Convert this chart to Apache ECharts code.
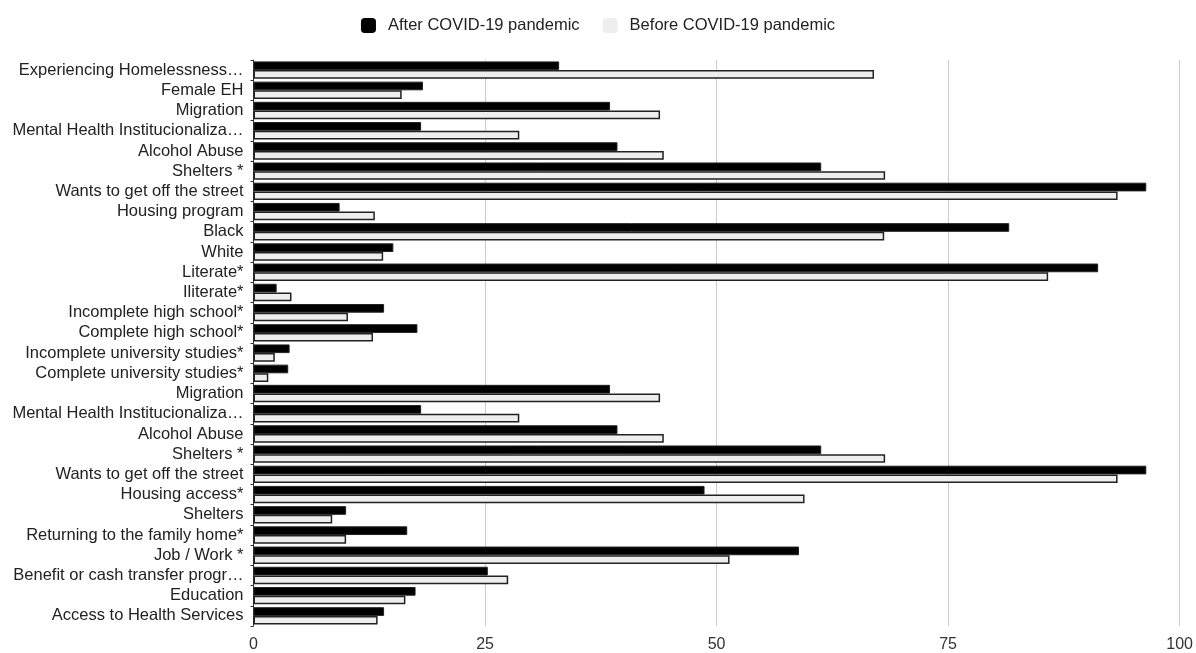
<!DOCTYPE html>
<html>
<head>
<meta charset="utf-8">
<script src="https://cdn.jsdelivr.net/npm/echarts@6/dist/echarts.min.js"></script>
<style>
html,body{margin:0;padding:0;background:#fff;}
#chart{width:1196px;height:653px;}
</style>
</head>
<body>
<div id="chart"></div>
<script>
const categories = [
  "Experiencing Homelessness…",
  "Female EH",
  "Migration",
  "Mental Health Institucionaliza…",
  "Alcohol Abuse",
  "Shelters *",
  "Wants to get off the street",
  "Housing program",
  "Black",
  "White",
  "Literate*",
  "Iliterate*",
  "Incomplete high school*",
  "Complete high school*",
  "Incomplete university studies*",
  "Complete university studies*",
  "Migration ",
  "Mental Health Institucionaliza… ",
  "Alcohol Abuse ",
  "Shelters * ",
  "Wants to get off the street ",
  "Housing access*",
  "Shelters",
  "Returning to the family home*",
  "Job / Work *",
  "Benefit or cash transfer progr…",
  "Education",
  "Access to Health Services"
];
const afterCovid = [33.0, 18.3, 38.5, 18.1, 39.3, 61.3, 96.4, 9.3, 81.6, 15.1, 91.2, 2.5, 14.1, 17.7, 3.9, 3.75,
  38.5, 18.1, 39.3, 61.3, 96.4, 48.7, 10.0, 16.6, 58.9, 25.3, 17.5, 14.1];
const beforeCovid = [67.0, 16.0, 43.9, 28.7, 44.3, 68.2, 93.3, 13.1, 68.1, 14.0, 85.8, 4.1, 10.2, 12.9, 2.3, 1.6,
  43.9, 28.7, 44.3, 68.2, 93.3, 59.5, 8.5, 10.0, 51.4, 27.5, 16.4, 13.4];
const xTicks = [0, 25, 50, 75, 100];

const chart = echarts.init(document.getElementById('chart'), null, {renderer: 'canvas'});
chart.setOption({
  animation: false,
  backgroundColor: '#ffffff',
  textStyle: {fontFamily: 'Liberation Sans, Arial, sans-serif'},
  legend: {
    top: 12,
    left: 'center',
    itemWidth: 15,
    itemHeight: 15,
    itemGap: 23,
    icon: 'roundRect',
    textStyle: {fontSize: 16.5, color: '#222', padding: [0, 0, 0, 7]},
    data: [
      {name: 'After COVID-19 pandemic', itemStyle: {color: '#000000', borderWidth: 0}},
      {name: 'Before COVID-19 pandemic', itemStyle: {color: '#eeeeee', borderWidth: 0}}
    ]
  },
  grid: {left: 253.5, right: 14, top: 60, bottom: 27, containLabel: false},
  xAxis: {
    type: 'value',
    min: xTicks[0],
    max: xTicks[xTicks.length - 1],
    interval: 25,
    axisLine: {show: false},
    axisTick: {show: false},
    axisLabel: {fontSize: 16, color: '#333', margin: 11},
    splitLine: {show: true, lineStyle: {color: '#cccccc', width: 1}}
  },
  yAxis: {
    type: 'category',
    inverse: true,
    data: categories,
    axisLine: {show: true, lineStyle: {color: '#333', width: 1}},
    axisTick: {show: true, length: 3, lineStyle: {color: '#333'}},
    axisLabel: {fontSize: 16.5, color: '#222', margin: 10, interval: 0,
      formatter: v => v.trim()}
  },
  series: [
    {
      name: 'After COVID-19 pandemic',
      type: 'bar',
      data: afterCovid,
      barGap: '0%',
      barCategoryGap: '14%',
      itemStyle: {color: '#000000', borderColor: '#222', borderWidth: 1}
    },
    {
      name: 'Before COVID-19 pandemic',
      type: 'bar',
      data: beforeCovid,
      barGap: '0%',
      barCategoryGap: '14%',
      itemStyle: {color: '#eeeeee', borderColor: '#222', borderWidth: 1.5}
    }
  ]
});
</script>
</body>
</html>
